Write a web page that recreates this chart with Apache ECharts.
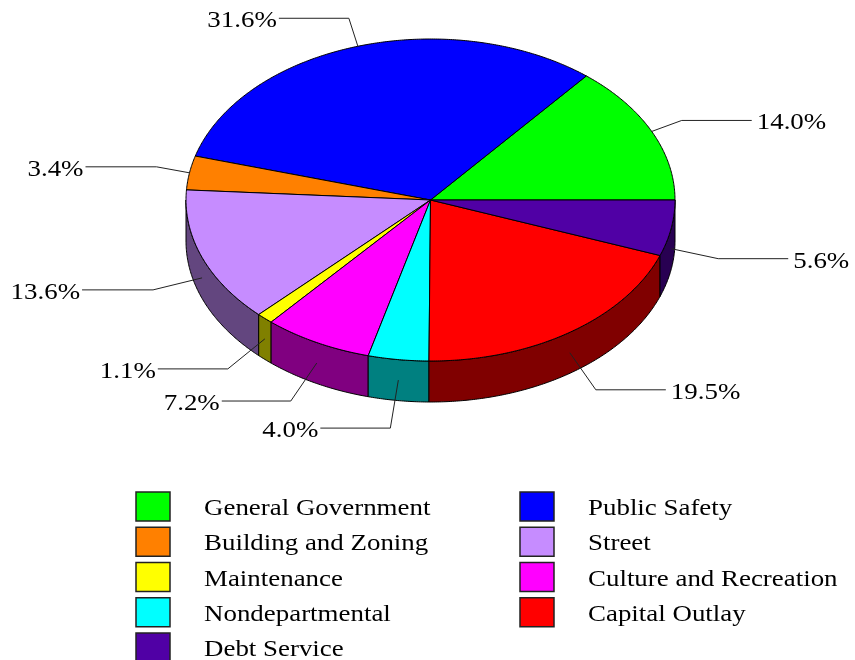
<!DOCTYPE html>
<html>
<head>
<meta charset="utf-8">
<style>
  html, body { margin: 0; padding: 0; background: #fff; }
  #main { width: 855px; height: 660px; }
</style>
<script src="https://cdn.jsdelivr.net/npm/echarts@6/dist/echarts.min.js"></script>
</head>
<body>
<div id="main"></div>
<script>
// data, in the order the pie runs (counter clockwise from 3 o'clock)
var categories = ['General Government', 'Public Safety', 'Building and Zoning', 'Street', 'Maintenance',
  'Culture and Recreation', 'Nondepartmental', 'Capital Outlay', 'Debt Service'];
var percents = [14.0, 31.6, 3.4, 13.6, 1.1, 7.2, 4.0, 19.5, 5.6];
var colors = ['#00ff00', '#0000ff', '#ff8000', '#c68cff', '#ffff00', '#ff00ff', '#00ffff', '#ff0000', '#5000a5'];
var sideColors = ['#008000', '#000080', '#804000', '#63467f', '#808000', '#800080', '#008080', '#800000', '#280052'];

// leader line layout: elbow offset from the slice edge, then horizontal run
var leaders = [[30, -11, 70], [-9, -28, -70], [-33, -6, -71], [-49, 12, -71], [-37, 30, -70],
  [-26, 38, -69], [-8, 48, -70], [26, 37, 70], [47, 10, 70]];

// pie geometry
var cx = 430.5, cy = 200, rx = 244.5, ry = 161, depth = 41;
var serif = '"Liberation Serif", "Times New Roman", serif';
var fontSize = 23;
var textScale = 1.17; // the reference text is stretched sideways

var chart = echarts.init(document.getElementById('main'), null, { renderer: 'canvas' });

function edgePoint(deg, drop) {
  var a = deg * Math.PI / 180;
  return [cx + rx * Math.cos(a), cy - ry * Math.sin(a) + (drop || 0)];
}

function arcPoints(from, to, drop) {
  var pts = [];
  var steps = Math.max(2, Math.ceil((to - from) * 2));
  for (var i = 0; i <= steps; i++) {
    pts.push(edgePoint(from + (to - from) * i / steps, drop));
  }
  return pts;
}

function renderSlice(params, api) {
  var idx = params.dataIndex;
  var value = api.value(0);
  var start = api.value(1) * 3.6;
  var end = start + value * 3.6;
  var mid = (start + end) / 2;
  var children = [];

  // side wall, only the part facing the viewer
  var wallFrom = Math.max(start, 180);
  if (end > wallFrom) {
    children.push({
      type: 'polygon',
      shape: { points: arcPoints(wallFrom, end, 0).concat(arcPoints(wallFrom, end, depth).reverse()) },
      style: { fill: sideColors[idx], stroke: '#000', lineWidth: 1 }
    });
  }

  // top face
  children.push({
    type: 'polygon',
    shape: { points: [[cx, cy]].concat(arcPoints(start, end, 0)) },
    style: { fill: colors[idx], stroke: '#000', lineWidth: 1 }
  });

  // leader line and percent label
  var p0 = edgePoint(mid, mid > 180 ? depth / 2 : 0);
  var lead = leaders[idx];
  var p1 = [p0[0] + lead[0], p0[1] + lead[1]];
  var p2 = [p1[0] + lead[2], p1[1]];
  var toRight = lead[2] > 0;
  children.push({
    type: 'polyline',
    shape: { points: [p0, p1, p2] },
    style: { fill: null, stroke: '#222', lineWidth: 1 }
  });
  children.push({
    type: 'text',
    x: p2[0] + (toRight ? 5 : -2),
    y: p2[1] + 3,
    scaleX: textScale,
    style: {
      text: value.toFixed(1) + '%',
      fontFamily: serif,
      fontSize: fontSize,
      fill: '#000',
      align: toRight ? 'left' : 'right',
      verticalAlign: 'middle'
    }
  });
  return { type: 'group', children: children };
}

var sliceData = [];
var running = 0;
for (var i = 0; i < percents.length; i++) {
  sliceData.push([percents[i], running]);
  running += percents[i];
}

// legend is laid out by hand: two columns, filled left then right
var legendOrder = [0, 2, 4, 6, 8, 1, 3, 5, 7];
var legendItems = [];
legendOrder.forEach(function (catIdx, pos) {
  var col = pos < 5 ? 0 : 1;
  var row = col === 0 ? pos : pos - 5;
  var left = col === 0 ? 136 : 520;
  var top = 492 + row * 35.25;
  legendItems.push({
    type: 'rect',
    shape: { x: left, y: top, width: 34, height: 29 },
    style: { fill: colors[catIdx], stroke: '#222', lineWidth: 1.5 }
  });
  legendItems.push({
    type: 'text',
    x: left + 68,
    y: top + 17,
    scaleX: textScale,
    style: {
      text: categories[catIdx],
      fontFamily: serif,
      fontSize: fontSize,
      fill: '#000',
      align: 'left',
      verticalAlign: 'middle'
    }
  });
});

chart.setOption({
  animation: false,
  backgroundColor: '#fff',
  graphic: { elements: legendItems },
  series: [{
    type: 'custom',
    coordinateSystem: 'none',
    renderItem: renderSlice,
    data: sliceData,
    silent: true
  }]
});
</script>
</body>
</html>
